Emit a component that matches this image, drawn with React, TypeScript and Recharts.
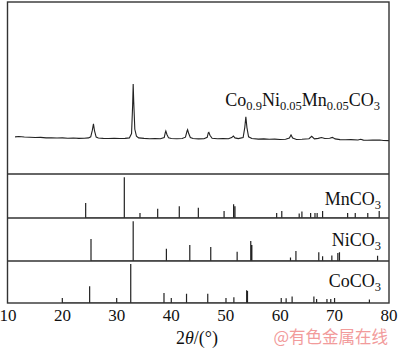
import React from 'react';
import { LineChart, Line, XAxis, YAxis } from 'recharts';

const X_TICKS = [10, 20, 30, 40, 50, 60, 70, 80];

// measured pattern of the precursor: [2θ, intensity a.u.]
const SAMPLE_TRACE: [number, number][] = [
    [11.3, 21.6], [12, 21.8], [13, 21.5], [14, 21.4], [15, 21.2], [16, 21.3], [17, 21.0],
    [18, 21.1], [19, 20.9], [20, 21.0], [21, 20.8], [22, 20.9], [23, 20.7], [24, 20.8],
    [24.8, 21.0], [25.2, 21.6], [25.5, 25.5], [25.7, 29.1], [25.9, 25.0], [26.2, 21.5],
    [26.6, 20.9], [27.5, 20.7], [28.5, 20.6], [29.5, 20.8], [30.5, 20.6], [31.5, 20.7],
    [32.3, 21.0], [32.7, 23.5], [32.9, 40.0], [33.0, 52.3], [33.1, 42.0], [33.3, 26.0],
    [33.6, 22.0], [34, 21.0], [35, 20.7], [36, 20.5], [37, 20.6], [38, 20.5], [38.7, 21.2],
    [38.9, 24.0], [39.0, 25.0], [39.2, 23.0], [39.5, 21.0], [40, 20.6], [41, 20.5],
    [42, 20.6], [42.6, 21.4], [42.9, 25.0], [43.0, 25.8], [43.2, 23.5], [43.5, 21.2],
    [44, 20.6], [45, 20.4], [46, 20.5], [46.6, 21.3], [46.8, 24.0], [46.9, 24.2],
    [47.1, 22.5], [47.5, 20.8], [48.5, 20.5], [49.5, 20.6], [50.5, 20.5], [51.1, 21.2],
    [51.4, 22.1], [51.7, 21.0], [52.3, 20.6], [53.2, 21.2], [53.5, 27.0], [53.7, 33.3],
    [53.9, 27.0], [54.2, 21.6], [54.8, 20.6], [56, 20.3], [57, 20.4], [58, 20.2],
    [59, 20.3], [60, 20.1], [61, 20.2], [61.7, 20.9], [62.0, 22.7], [62.3, 20.9],
    [63, 20.1], [64, 20.2], [65.3, 20.5], [65.8, 21.9], [66.3, 20.4], [67, 20.7],
    [67.6, 21.2], [68.2, 20.6], [69.1, 20.8], [69.6, 21.3], [70.1, 20.4], [71, 20.0],
    [72, 19.9], [73, 20.0], [74.3, 19.8], [74.8, 20.2], [75.3, 19.7], [76, 19.6],
    [77, 19.7], [78.3, 19.8], [79, 19.5], [80, 19.4],
];

// reference patterns: [2θ, relative intensity]
const MNCO3_STICKS: [number, number][] = [
    [24.27, 37], [31.37, 100], [34.25, 12], [37.5, 23], [41.47, 29], [44.97, 25],
    [49.7, 17], [51.45, 34], [51.7, 29], [59.36, 12], [60.3, 17], [63.5, 11], [64.0, 16],
    [65.6, 12], [66.4, 12], [66.8, 12], [67.8, 17], [72.4, 12], [73.8, 12], [76.1, 12],
    [78.2, 17],
];

const NICO3_STICKS: [number, number][] = [
    [25.25, 55], [33.0, 100], [39.1, 31], [43.4, 40], [47.25, 35], [52.1, 23],
    [54.6, 50], [54.8, 40], [61.9, 9], [62.9, 25], [67.1, 22], [67.8, 12], [69.5, 14],
    [70.6, 20], [70.9, 22], [77.9, 13],
];

const COCO3_STICKS: [number, number][] = [
    [19.98, 13], [25.0, 43], [29.97, 13], [32.55, 100], [38.66, 26], [40.0, 13],
    [42.8, 24], [46.7, 24], [50.05, 13], [51.5, 15], [53.85, 33], [54.0, 31],
    [60.2, 13], [61.1, 12], [62.2, 17], [66.2, 17], [66.7, 10], [68.6, 10], [69.3, 10],
    [70.0, 13], [76.4, 9],
];

const INK = '#222';
const FRAME = '#333';
const SERIF = 'Liberation Serif';
const W = 400;
const LEFT = 8;
const RIGHT = 389;
// panel borders, top to bottom
const EDGES = [2, 174, 218, 261, 303];

const toSticks = (sticks: [number, number][]) =>
    sticks.flatMap(([x, h]) => [{ x, y: 0 }, { x, y: h }, { x, y: 0 }]);

const Panel: React.FC<{ data: { x: number; y: number }[]; top: number; bottom: number; max: number; last?: boolean; width?: number }> = ({ data, top, bottom, max, last, width = 1.2 }) => {
    const height = bottom - top + (last ? 45 : 1);
    return (
        <div style={{ position: 'absolute', left: 0, top }}>
            <LineChart width={W} height={height} data={data} margin={{ top: 0, bottom: last ? 0 : 1, left: LEFT, right: W - RIGHT }}>
                <XAxis
                    dataKey="x"
                    type="number"
                    domain={[10, 80]}
                    ticks={last ? X_TICKS : []}
                    height={last ? 45 : 0}
                    tick={last ? { fill: '#111', fontSize: 17, style: { fontFamily: SERIF } } : false}
                    tickLine={false}
                    tickSize={5}
                    tickMargin={1}
                    axisLine={false}
                    interval={0}
                />
                <YAxis type="number" domain={[0, max]} hide allowDataOverflow />
                <Line dataKey="y" type="linear" stroke={INK} strokeWidth={width} dot={false} isAnimationActive={false} />
            </LineChart>
        </div>
    );
};

export default function App() {
    const traceData = SAMPLE_TRACE.map(([x, y]) => ({ x, y }));
    const [t0, t1, t2, t3, t4] = EDGES;
    return (
        <div style={{ position: 'absolute', left: 0, top: 0, width: W, height: 348, background: '#fff', overflow: 'hidden', fontFamily: SERIF }}>
            <Panel data={traceData} top={t0} bottom={t1} max={100} width={1.1} />
            <Panel data={toSticks(MNCO3_STICKS)} top={t1} bottom={t2} max={108} />
            <Panel data={toSticks(NICO3_STICKS)} top={t2} bottom={t3} max={108} />
            <Panel data={toSticks(COCO3_STICKS)} top={t3} bottom={t4} max={108} last />

            <svg width={W} height={348} style={{ position: 'absolute', left: 0, top: 0, pointerEvents: 'none' }}>
                <g stroke={FRAME} strokeWidth={1.4} fill="none">
                    <rect x={LEFT - 0.5} y={t0} width={RIGHT - LEFT + 0.5} height={t4 - t0} />
                    {[t1, t2, t3].map((y) => (
                        <line key={y} x1={LEFT - 0.5} x2={RIGHT} y1={y} y2={y} />
                    ))}
                </g>
                <g style={{ fontFamily: SERIF }} fill="#111" fontSize={18} textAnchor="end">
                    <text x={380} y={106}>
                        Co<tspan fontSize={12.5} dy={4}>0.9</tspan>
                        <tspan dy={-4}>Ni</tspan><tspan fontSize={12.5} dy={4}>0.05</tspan>
                        <tspan dy={-4}>Mn</tspan><tspan fontSize={12.5} dy={4}>0.05</tspan>
                        <tspan dy={-4}>CO</tspan><tspan fontSize={12.5} dy={4}>3</tspan>
                    </text>
                    <text x={381} y={205}>MnCO<tspan fontSize={12.5} dy={4}>3</tspan></text>
                    <text x={381} y={245.5}>NiCO<tspan fontSize={12.5} dy={4}>3</tspan></text>
                    <text x={381} y={287}>CoCO<tspan fontSize={12.5} dy={4}>3</tspan></text>
                </g>
                <text x={197} y={344} textAnchor="middle" style={{ fontFamily: SERIF }} fontSize={18} fill="#111">
                    2<tspan fontStyle="italic">θ</tspan>/(°)
                </text>
                <text x={388} y={343} textAnchor="end" style={{ fontFamily: 'Noto Sans CJK SC' }} fontSize={16.5} fill="#f29b9b">
                    @有色金属在线
                </text>
            </svg>
        </div>
    );
}
